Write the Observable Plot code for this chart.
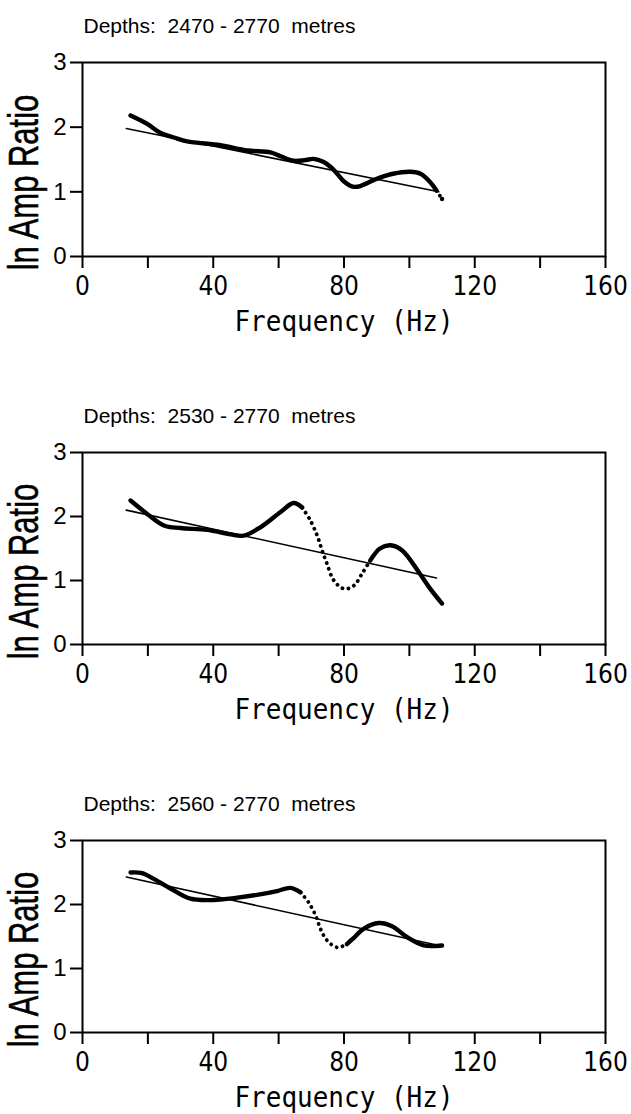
<!DOCTYPE html>
<html><head><meta charset="utf-8">
<script src="https://cdn.jsdelivr.net/npm/d3@7"></script>
<script src="https://cdn.jsdelivr.net/npm/@observablehq/plot@0.6"></script>
<style>
html,body{margin:0;padding:0;background:#fff;}
#wrap{position:relative;width:631px;height:1114px;overflow:hidden;background:#fff;}
.panel{position:absolute;left:0;}
svg text{white-space:pre;}
</style></head><body><div id="wrap"></div>
<script>
// ---- data ----
const titles = ["Depths:  2470 - 2770  metres", "Depths:  2530 - 2770  metres", "Depths:  2560 - 2770  metres"];
const yLabel = "ln Amp Ratio";
const xLabel = "Frequency (Hz)";
const xTicks = [0, 20, 40, 60, 80, 100, 120, 140, 160];
const xTickLabels = [0, 40, 80, 120, 160];
const yTicks = [0, 1, 2, 3];

const freq1 = [14.7, 19.8, 23.9, 28, 32, 42.2, 50.4, 57.5, 60.6, 64.6, 68, 70.7, 73.8, 76, 77.9, 80, 82.7, 85, 89, 91, 95, 100.3, 103.4, 106.4, 108.3, 110];
const amp1  = [2.18, 2.05, 1.91, 1.84, 1.78, 1.72, 1.64, 1.61, 1.55, 1.48, 1.49, 1.51, 1.46, 1.38, 1.28, 1.16, 1.08, 1.09, 1.18, 1.22, 1.28, 1.31, 1.28, 1.15, 1.02, 0.89];
const fitFreq1 = [13.4, 109];
const fitAmp1  = [1.98, 1.00];

const freq2 = [14.7, 19.8, 24.9, 30, 38.1, 45.3, 49.3, 54.4, 60.6, 64.6, 67.2, 69.7, 71.8, 73.3, 74.8, 76.9, 80, 83, 85.8, 88, 91, 94.2, 97.8, 102.9, 106.4, 110];
const amp2  = [2.25, 2.04, 1.86, 1.82, 1.79, 1.72, 1.70, 1.83, 2.07, 2.21, 2.14, 1.94, 1.70, 1.47, 1.26, 1.00, 0.87, 0.92, 1.13, 1.31, 1.50, 1.55, 1.47, 1.13, 0.87, 0.64];
const fitFreq2 = [13.4, 108.3];
const fitAmp2  = [2.10, 1.04];

const freq3 = [14.7, 18.2, 21.8, 26.9, 33, 40.2, 46.3, 53.4, 59.5, 63.6, 66.7, 69.2, 71.3, 72.8, 74.8, 77.9, 80.9, 83, 86, 90.6, 94.7, 99.3, 104.4, 110];
const amp3  = [2.50, 2.49, 2.40, 2.25, 2.09, 2.07, 2.10, 2.15, 2.21, 2.26, 2.19, 2.03, 1.83, 1.62, 1.44, 1.33, 1.38, 1.48, 1.62, 1.71, 1.66, 1.49, 1.36, 1.36];
const fitFreq3 = [13.4, 108];
const fitAmp3  = [2.43, 1.37];

// ---- drawing ----
const monoFont = "'DejaVu Sans Mono', 'Liberation Mono', monospace";
const narrowFont = "'Liberation Sans Narrow', 'DejaVu Sans Condensed', 'DejaVu Sans Mono', sans-serif";
const sansFont = "'Liberation Sans', Arial, Helvetica, sans-serif";

const panels = [
  {title: titles[0], freq: freq1, amp: amp1, fitF: fitFreq1, fitA: fitAmp1, dotted: [108.3, 110], top: 0,   height: 390},
  {title: titles[1], freq: freq2, amp: amp2, fitF: fitFreq2, fitA: fitAmp2, dotted: [67.2, 88],   top: 390, height: 388},
  {title: titles[2], freq: freq3, amp: amp3, fitF: fitFreq3, fitA: fitAmp3, dotted: [66.7, 80.9], top: 778, height: 336}
];

const wrap = document.getElementById("wrap");

function appendScale(sel, s) {
  sel.each(function() {
    const t = this.getAttribute("transform") || "";
    this.setAttribute("transform", (t + " " + s).trim());
  });
}

panels.forEach((p, k) => {
  const frameTop = 62;
  const frameH = k === 0 ? 194 : 192;
  const idx = d3.range(p.freq.length);
  const before = idx.filter(i => p.freq[i] <= p.dotted[0]);
  const during = idx.filter(i => p.freq[i] >= p.dotted[0] && p.freq[i] <= p.dotted[1]);
  const after  = idx.filter(i => p.freq[i] >= p.dotted[1]);
  const fitIdx = d3.range(p.fitF.length);
  const X = i => p.freq[i], Y = i => p.amp[i];

  const chart = Plot.plot({
    width: 631,
    height: p.height,
    marginLeft: 82,
    marginRight: 26,
    marginTop: frameTop,
    marginBottom: p.height - frameTop - frameH,
    style: {background: "transparent", color: "black", overflow: "visible"},
    x: {domain: [0, 160]},
    y: {domain: [0, 3]},
    marks: [
      Plot.axisX({ticks: xTicks, tickSize: 12, tickPadding: 8, strokeWidth: 2,
        tickFormat: d => xTickLabels.includes(d) ? String(d) : "",
        fontFamily: narrowFont, fontSize: 26, label: null}),
      Plot.axisY({ticks: yTicks, tickSize: 12, tickPadding: 4, strokeWidth: 2,
        tickFormat: d => String(d),
        fontFamily: sansFont, fontSize: 24, label: null}),
      Plot.frame({stroke: "black", strokeWidth: 2}),
      Plot.line(fitIdx, {x: i => p.fitF[i], y: i => p.fitA[i], stroke: "black", strokeWidth: 1.6}),
      Plot.line(before, {x: X, y: Y, curve: "catmull-rom", stroke: "black", strokeWidth: 4.4, strokeLinecap: "round"}),
      Plot.line(after, {x: X, y: Y, curve: "catmull-rom", stroke: "black", strokeWidth: 4.4, strokeLinecap: "round"}),
      Plot.line(during, {x: X, y: Y, curve: "catmull-rom", stroke: "black", strokeWidth: 3.8, strokeLinecap: "round", strokeDasharray: "0.1 6"}),
      Plot.text([p.title], {frameAnchor: "top-left", dx: 1, dy: -30, textAnchor: "start", lineAnchor: "bottom",
        fontFamily: sansFont, fontSize: 21, fill: "black"}),
      Plot.text([yLabel], {className: "ylab", frameAnchor: "left", dx: -58, dy: 23, rotate: -90, textAnchor: "middle", lineAnchor: "middle",
        fontFamily: sansFont, fontSize: 31, fill: "black", stroke: "black", strokeWidth: 0.4}),
      Plot.text([xLabel], {className: "xlab", frameAnchor: "bottom", dy: 74, textAnchor: "middle", lineAnchor: "bottom",
        fontFamily: monoFont, fontSize: 26, fill: "black"})
    ]
  });
  appendScale(d3.select(chart).selectAll(".ylab text"), "scale(1,1.35)");
  appendScale(d3.select(chart).selectAll(".xlab text"), "scale(1,1.12)");
  const div = document.createElement("div");
  div.className = "panel";
  div.style.top = p.top + "px";
  div.appendChild(chart);
  wrap.appendChild(div);
});
</script>
</body></html>
